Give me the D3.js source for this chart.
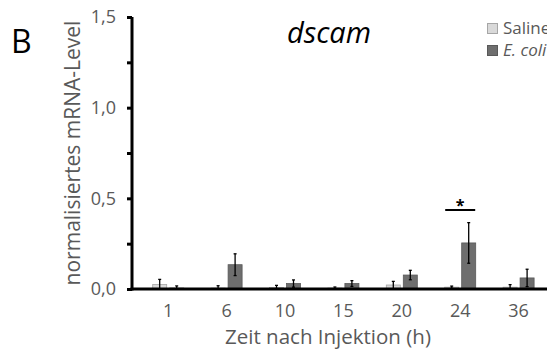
<!DOCTYPE html>
<html>
<head>
<meta charset="utf-8">
<script src="https://cdn.jsdelivr.net/npm/d3@7"></script>
<style>
  html, body { margin: 0; padding: 0; background: #fff; }
  svg { display: block; }
  text { font-family: "Open Sans", "Noto Sans", sans-serif; }
</style>
</head>
<body>
<svg id="chart" width="547" height="354"></svg>
<script>
// Time points (hours after injection)
const categories = ["1", "6", "10", "15", "20", "24", "36"];
// Mean normalised mRNA level per group
const salineValues = [0.025, 0.005, 0.008, 0.005, 0.022, 0.010, 0.010];
const ecoliValues  = [0.005, 0.134, 0.030, 0.030, 0.077, 0.254, 0.061];
// Error (half-length of the error bars)
const salineErrors = [0.028, 0.013, 0.012, 0.006, 0.020, 0.006, 0.014];
const ecoliErrors  = [0.012, 0.060, 0.020, 0.016, 0.026, 0.112, 0.048];
const yTicks = [0, 0.25, 0.5, 0.75, 1.0, 1.25, 1.5];
const yTickLabels = ["0,0", "", "0,5", "", "1,0", "", "1,5"];
const seriesNames = ["Saline", "E. coli"];
const significant = ["24"];

const svg = d3.select("#chart");
const axisX0 = 132;
const y = d3.scaleLinear().domain([0, 1.5]).range([289, 17]);
const x = d3.scaleBand().domain(categories).range([139, 139 + 7 * 58.4]);
const barW = 14, gap = 3;

const colors = { saline: "#d9d9d9", salineStroke: "#a6a6a6", ecoli: "#6e6e6e", ecoliStroke: "#595959" };

// Bars
const rows = categories.map((c, i) => ({
  c, s: salineValues[i], e: ecoliValues[i], se: salineErrors[i], ee: ecoliErrors[i]
}));

const g = svg.append("g");
rows.forEach(d => {
  const cx = x(d.c) + x.bandwidth() / 2;
  const sx = cx - gap / 2 - barW;
  const ex = cx + gap / 2;
  g.append("rect").attr("x", sx).attr("y", y(d.s)).attr("width", barW)
    .attr("height", y(0) - y(d.s)).attr("fill", colors.saline)
    .attr("stroke", colors.salineStroke).attr("stroke-width", 0.8);
  g.append("rect").attr("x", ex).attr("y", y(d.e)).attr("width", barW)
    .attr("height", y(0) - y(d.e)).attr("fill", colors.ecoli)
    .attr("stroke", colors.ecoliStroke).attr("stroke-width", 0.8);
  // error bars
  [[sx + barW / 2, d.s, d.se], [ex + barW / 2, d.e, d.ee]].forEach(([bx, v, err]) => {
    const lo = Math.max(0, v - err), hi = v + err;
    g.append("line").attr("x1", bx).attr("x2", bx).attr("y1", y(lo)).attr("y2", y(hi))
      .attr("stroke", "#000").attr("stroke-width", 1.3);
    [lo, hi].forEach(t => {
      g.append("line").attr("x1", bx - 1.5).attr("x2", bx + 1.5).attr("y1", y(t)).attr("y2", y(t))
        .attr("stroke", "#000").attr("stroke-width", 1.3);
    });
  });
});

// Y axis
const yAxis = d3.axisLeft(y).tickValues(yTicks)
  .tickFormat((d, i) => yTickLabels[i]).tickSize(5).tickPadding(11);
const ya = svg.append("g").attr("transform", `translate(${axisX0},0)`).call(yAxis);
ya.select(".domain").attr("stroke", "#000").attr("stroke-width", 3)
  .attr("d", `M0,${y(1.5)}V${y(0) + 1.5}`);
ya.selectAll(".tick line").attr("stroke", "#000").attr("stroke-width", 3);
ya.selectAll(".tick text").attr("fill", "#595959").style("font-size", "18px")
  .style("font-family", "'Open Sans', sans-serif");

// X axis
const xAxis = d3.axisBottom(x).tickSize(0).tickPadding(15);
const xa = svg.append("g").attr("transform", `translate(0,${y(0)})`).call(xAxis);
xa.select(".domain").attr("stroke", "#000").attr("stroke-width", 3)
  .attr("d", `M${axisX0 - 1.5},0H547`);
xa.selectAll(".tick text").attr("fill", "#595959").style("font-size", "18px")
  .style("font-family", "'Open Sans', sans-serif");

// Significance marker
significant.forEach(c => {
  const cx = x(c) + x.bandwidth() / 2;
  svg.append("line").attr("x1", cx - 15).attr("x2", cx + 15)
    .attr("y1", 210).attr("y2", 210).attr("stroke", "#000").attr("stroke-width", 2);
  svg.append("text").attr("x", cx).attr("y", 211).attr("text-anchor", "middle")
    .style("font-size", "16px").style("font-weight", "bold").text("*");
});

// Axis titles
svg.append("text").attr("x", 328).attr("y", 344).attr("text-anchor", "middle")
  .attr("fill", "#595959").style("font-size", "20.5px").text("Zeit nach Injektion (h)");
svg.append("text").attr("transform", "translate(80,153) rotate(-90)")
  .attr("text-anchor", "middle").attr("fill", "#595959").style("font-size", "21px")
  .text("normalisiertes mRNA-Level");

// Title and panel letter
svg.append("text").attr("x", 329).attr("y", 43).attr("text-anchor", "middle")
  .style("font-size", "29px").style("font-style", "italic").attr("fill", "#000").text("dscam");
svg.append("text").attr("x", 11).attr("y", 53)
  .style("font-size", "32px").attr("fill", "#000").text("B");

// Legend
const legend = svg.append("g").attr("transform", "translate(487,23)");
[[colors.saline, colors.salineStroke, false], [colors.ecoli, colors.ecoliStroke, true]].forEach(([f, s, it], i) => {
  legend.append("rect").attr("x", 0.5).attr("y", i * 22 + 0.5).attr("width", 10).attr("height", 10)
    .attr("fill", f).attr("stroke", s).attr("stroke-width", 1);
  legend.append("text").attr("x", 16).attr("y", i * 22 + 11)
    .attr("fill", "#595959").style("font-size", "17px")
    .style("font-style", it ? "italic" : "normal").text(seriesNames[i]);
});
</script>
</body>
</html>
